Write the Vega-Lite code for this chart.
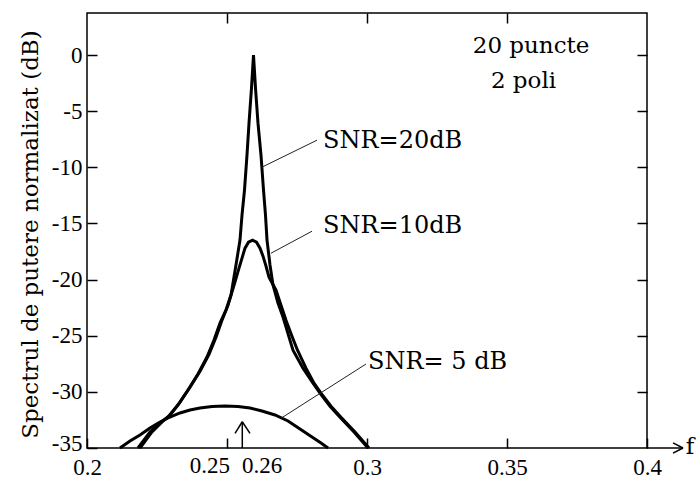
{
  "$schema": "https://vega.github.io/schema/vega-lite/v6.json",
  "width": 560,
  "height": 435,
  "autosize": {"type": "none"},
  "padding": {"left": 87, "top": 13, "right": 53, "bottom": 33},
  "background": "white",
  "config": {
    "view": {"stroke": "black", "strokeWidth": 1.5},
    "axis": {"domain": false, "grid": false, "tickColor": "black", "tickWidth": 1.5, "tickSize": -10, "labelColor": "black", "titleColor": "black"}
  },
  "datasets": {
    "curves": [
      {"s": "20", "f": 0.21821, "db": -35.0},
      {"s": "20", "f": 0.2225, "db": -33.57},
      {"s": "20", "f": 0.22607, "db": -32.77},
      {"s": "20", "f": 0.22893, "db": -32.24},
      {"s": "20", "f": 0.2325, "db": -31.17},
      {"s": "20", "f": 0.23607, "db": -29.83},
      {"s": "20", "f": 0.23964, "db": -28.41},
      {"s": "20", "f": 0.24286, "db": -26.89},
      {"s": "20", "f": 0.24536, "db": -25.38},
      {"s": "20", "f": 0.2475, "db": -23.87},
      {"s": "20", "f": 0.24964, "db": -22.71},
      {"s": "20", "f": 0.25143, "db": -21.37},
      {"s": "20", "f": 0.25321, "db": -18.7},
      {"s": "20", "f": 0.25464, "db": -16.48},
      {"s": "20", "f": 0.25536, "db": -14.25},
      {"s": "20", "f": 0.25625, "db": -12.02},
      {"s": "20", "f": 0.25714, "db": -8.91},
      {"s": "20", "f": 0.25786, "db": -6.06},
      {"s": "20", "f": 0.25875, "db": -2.94},
      {"s": "20", "f": 0.25946, "db": 0.0},
      {"s": "20", "f": 0.26018, "db": -2.94},
      {"s": "20", "f": 0.26107, "db": -6.06},
      {"s": "20", "f": 0.26214, "db": -8.91},
      {"s": "20", "f": 0.26304, "db": -12.02},
      {"s": "20", "f": 0.26375, "db": -14.25},
      {"s": "20", "f": 0.26429, "db": -16.48},
      {"s": "20", "f": 0.26536, "db": -18.7},
      {"s": "20", "f": 0.26643, "db": -20.48},
      {"s": "20", "f": 0.26821, "db": -22.09},
      {"s": "20", "f": 0.27, "db": -23.34},
      {"s": "20", "f": 0.27357, "db": -26.29},
      {"s": "20", "f": 0.27714, "db": -27.89},
      {"s": "20", "f": 0.28071, "db": -29.23},
      {"s": "20", "f": 0.28321, "db": -30.12},
      {"s": "20", "f": 0.28679, "db": -31.28},
      {"s": "20", "f": 0.29036, "db": -32.26},
      {"s": "20", "f": 0.29536, "db": -33.57},
      {"s": "20", "f": 0.30036, "db": -35.0},
      {"s": "10", "f": 0.21893, "db": -35.0},
      {"s": "10", "f": 0.22321, "db": -33.57},
      {"s": "10", "f": 0.22679, "db": -32.68},
      {"s": "10", "f": 0.22964, "db": -32.08},
      {"s": "10", "f": 0.23321, "db": -30.92},
      {"s": "10", "f": 0.23679, "db": -29.59},
      {"s": "10", "f": 0.24036, "db": -28.16},
      {"s": "10", "f": 0.24357, "db": -26.65},
      {"s": "10", "f": 0.24607, "db": -25.13},
      {"s": "10", "f": 0.24821, "db": -23.62},
      {"s": "10", "f": 0.25036, "db": -22.28},
      {"s": "10", "f": 0.2525, "db": -20.5},
      {"s": "10", "f": 0.25429, "db": -18.98},
      {"s": "10", "f": 0.25536, "db": -18.09},
      {"s": "10", "f": 0.25643, "db": -17.2},
      {"s": "10", "f": 0.25768, "db": -16.67},
      {"s": "10", "f": 0.25911, "db": -16.48},
      {"s": "10", "f": 0.26054, "db": -16.67},
      {"s": "10", "f": 0.26179, "db": -17.2},
      {"s": "10", "f": 0.26286, "db": -17.91},
      {"s": "10", "f": 0.26393, "db": -18.8},
      {"s": "10", "f": 0.265, "db": -19.79},
      {"s": "10", "f": 0.2675, "db": -20.94},
      {"s": "10", "f": 0.26929, "db": -22.28},
      {"s": "10", "f": 0.27107, "db": -23.62},
      {"s": "10", "f": 0.27321, "db": -25.04},
      {"s": "10", "f": 0.27518, "db": -26.29},
      {"s": "10", "f": 0.27821, "db": -27.89},
      {"s": "10", "f": 0.28107, "db": -29.23},
      {"s": "10", "f": 0.28357, "db": -30.12},
      {"s": "10", "f": 0.28714, "db": -31.28},
      {"s": "10", "f": 0.29071, "db": -32.26},
      {"s": "10", "f": 0.29571, "db": -33.57},
      {"s": "10", "f": 0.30071, "db": -35.0},
      {"s": "5", "f": 0.21179, "db": -35.0},
      {"s": "5", "f": 0.21536, "db": -34.38},
      {"s": "5", "f": 0.21893, "db": -33.84},
      {"s": "5", "f": 0.2225, "db": -33.22},
      {"s": "5", "f": 0.22607, "db": -32.68},
      {"s": "5", "f": 0.22964, "db": -32.24},
      {"s": "5", "f": 0.23321, "db": -31.88},
      {"s": "5", "f": 0.23679, "db": -31.62},
      {"s": "5", "f": 0.24036, "db": -31.44},
      {"s": "5", "f": 0.24464, "db": -31.3},
      {"s": "5", "f": 0.24929, "db": -31.26},
      {"s": "5", "f": 0.25393, "db": -31.3},
      {"s": "5", "f": 0.25821, "db": -31.44},
      {"s": "5", "f": 0.2625, "db": -31.71},
      {"s": "5", "f": 0.26714, "db": -32.06},
      {"s": "5", "f": 0.27179, "db": -32.59},
      {"s": "5", "f": 0.27607, "db": -33.31},
      {"s": "5", "f": 0.28036, "db": -34.02},
      {"s": "5", "f": 0.28357, "db": -34.55},
      {"s": "5", "f": 0.28607, "db": -35.0}
    ],
    "leaders": [
      {"id": "L20", "f": 0.28214, "db": -7.58, "f2": 0.2625, "db2": -9.98},
      {"id": "L10", "f": 0.28036, "db": -15.69, "f2": 0.26571, "db2": -17.65},
      {"id": "L5", "f": 0.29964, "db": -27.52, "f2": 0.26929, "db2": -32.35}
    ],
    "arrows": [
      {"id": "axisext", "f": 0.4, "db": -35.0, "f2": 0.41286, "db2": -35.0},
      {"id": "xhead1", "f": 0.40929, "db": -34.55, "f2": 0.41286, "db2": -35.0},
      {"id": "xhead2", "f": 0.40929, "db": -35.45, "f2": 0.41286, "db2": -35.0},
      {"id": "shaft", "f": 0.25546, "db": -35.0, "f2": 0.25546, "db2": -32.66},
      {"id": "wing1", "f": 0.25286, "db": -33.69, "f2": 0.25546, "db2": -32.66},
      {"id": "wing2", "f": 0.25821, "db": -33.69, "f2": 0.25546, "db2": -32.66}
    ],
    "snrlabels": [
      {"t": "SNR=20dB", "f": 0.28429, "db": -7.66},
      {"t": "SNR=10dB", "f": 0.28429, "db": -15.23},
      {"t": "SNR= 5 dB", "f": 0.30036, "db": -27.34}
    ],
    "centerlabels": [
      {"t": "20 puncte", "f": 0.3586, "db": 0.8},
      {"t": "2 poli", "f": 0.3559, "db": -2.32},
      {"t": "f", "f": 0.41536, "db": -34.9}
    ],
    "ticklabR": [{"t": "0.25", "f": 0.25107, "db": -36.6}],
    "ticklabL": [{"t": "0.26", "f": 0.25536, "db": -36.6}]
  },
  "resolve": {"axis": {"x": "independent", "y": "independent"}},
  "layer": [
    {
      "data": {"name": "curves"},
      "mark": {"type": "line", "color": "black", "strokeWidth": 3, "strokeJoin": "miter"},
      "encoding": {
        "x": {"field": "f", "type": "quantitative", "scale": {"domain": [0.2, 0.4], "nice": false, "zero": false},
          "axis": {"orient": "bottom", "title": null, "values": [0.2, 0.25, 0.3, 0.35, 0.4], "labelExpr": "datum.value == 0.25 ? '' : '' + datum.value", "labelFont": "Liberation Sans Narrow", "labelFontSize": 23, "labelPadding": 29, "labelBaseline": "middle", "labelOverlap": false, "labelBound": false, "labelFlush": false}},
        "y": {"field": "db", "type": "quantitative", "scale": {"domain": [-35, 3.75], "nice": false, "zero": false},
          "axis": {"orient": "left", "values": [-35, -30, -25, -20, -15, -10, -5, 0], "labelExpr": "'' + datum.value", "labelFont": "Liberation Sans Narrow", "labelFontSize": 23, "labelPadding": 15, "labelOffset": {"condition": {"test": "datum.value == -35", "value": -5}, "value": 0}, "labelOverlap": false, "labelBound": false, "labelFlush": false,
            "title": "Spectrul de putere normalizat (dB)", "titleFont": "DejaVu Serif", "titleFontSize": 23, "titleFontWeight": "normal", "titleX": -57, "titleY": 221, "titleBaseline": "middle", "titleAngle": -90}},
        "detail": {"field": "s", "type": "nominal"}
      }
    },
    {
      "data": {"name": "leaders"},
      "mark": {"type": "rule", "color": "#222", "strokeWidth": 1},
      "encoding": {
        "x": {"field": "f", "type": "quantitative", "scale": {"domain": [0.2, 0.4], "nice": false, "zero": false},
          "axis": {"orient": "top", "title": null, "labels": false, "values": [0.25, 0.3, 0.35]}},
        "y": {"field": "db", "type": "quantitative", "scale": {"domain": [-35, 3.75], "nice": false, "zero": false},
          "axis": {"orient": "right", "title": null, "labels": false, "values": [-30, -25, -20, -15, -10, -5, 0]}},
        "x2": {"field": "f2"},
        "y2": {"field": "db2"}
      }
    },
    {
      "data": {"name": "arrows"},
      "mark": {"type": "rule", "color": "black", "strokeWidth": 1.5},
      "encoding": {
        "x": {"field": "f", "type": "quantitative", "axis": null},
        "y": {"field": "db", "type": "quantitative", "axis": null},
        "x2": {"field": "f2"},
        "y2": {"field": "db2"}
      }
    },
    {
      "data": {"name": "snrlabels"},
      "mark": {"type": "text", "align": "left", "baseline": "middle", "font": "DejaVu Serif", "fontSize": 24, "color": "black"},
      "encoding": {
        "x": {"field": "f", "type": "quantitative", "axis": null},
        "y": {"field": "db", "type": "quantitative", "axis": null},
        "text": {"field": "t"}
      }
    },
    {
      "data": {"name": "centerlabels"},
      "mark": {"type": "text", "align": "center", "baseline": "middle", "font": "DejaVu Serif", "fontSize": 23, "color": "black"},
      "encoding": {
        "x": {"field": "f", "type": "quantitative", "axis": null},
        "y": {"field": "db", "type": "quantitative", "axis": null},
        "text": {"field": "t"}
      }
    },
    {
      "data": {"name": "ticklabR"},
      "mark": {"type": "text", "align": "right", "baseline": "middle", "font": "Liberation Sans Narrow", "fontSize": 23, "color": "black"},
      "encoding": {
        "x": {"field": "f", "type": "quantitative", "axis": null},
        "y": {"field": "db", "type": "quantitative", "axis": null},
        "text": {"field": "t"}
      }
    },
    {
      "data": {"name": "ticklabL"},
      "mark": {"type": "text", "align": "left", "baseline": "middle", "font": "Liberation Sans Narrow", "fontSize": 23, "color": "black"},
      "encoding": {
        "x": {"field": "f", "type": "quantitative", "axis": null},
        "y": {"field": "db", "type": "quantitative", "axis": null},
        "text": {"field": "t"}
      }
    }
  ]
}
